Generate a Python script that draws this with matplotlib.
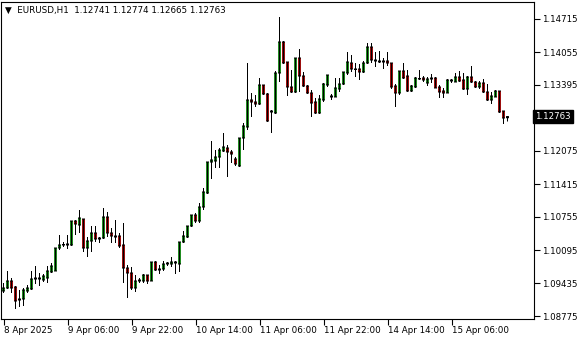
import numpy as np
import pandas as pd
import matplotlib
matplotlib.use('Agg')
import matplotlib.pyplot as plt

# EURUSD H1 bars
opens = [1.09275, 1.09335, 1.09475, 1.09355, 1.09095, 1.09115, 1.09275, 1.09315, 1.09515, 1.09535,
         1.09495, 1.09535, 1.09655, 1.09675, 1.10135, 1.10195, 1.10195, 1.10195, 1.10675, 1.10595,
         1.10715, 1.10135, 1.10275, 1.10435, 1.10315, 1.10335, 1.10755, 1.10435, 1.10375, 1.10375,
         1.10195, 1.09735, 1.09635, 1.09335, 1.09475, 1.09475, 1.09595, 1.09475, 1.09855, 1.09715,
         1.09715, 1.09815, 1.09815, 1.09835, 1.09815, 1.10255, 1.10355, 1.10575, 1.10795, 1.10675,
         1.10955, 1.11235, 1.11855, 1.11875, 1.11955, 1.12075, 1.12135, 1.12055, 1.11915, 1.11775,
         1.12335, 1.12555, 1.13095, 1.13055, 1.13015, 1.13395, 1.13215, 1.12855, 1.12835, 1.13635,
         1.14255, 1.13855, 1.13355, 1.13255, 1.13935, 1.13575, 1.13375, 1.13235, 1.13055, 1.12835,
         1.13095, 1.13395, 1.13155, 1.13155, 1.13315, 1.13415, 1.13635, 1.13835, 1.13715, 1.13715,
         1.13655, 1.13835, 1.14155, 1.13895, 1.13875, 1.13855, 1.13875, 1.13835, 1.13375, 1.13235,
         1.13675, 1.13575, 1.13275, 1.13355, 1.13515, 1.13535, 1.13435, 1.13515, 1.13535, 1.13355,
         1.13275, 1.13235, 1.13475, 1.13455, 1.13555, 1.13495, 1.13315, 1.13555, 1.13455, 1.13355,
         1.13435, 1.13255, 1.13095, 1.13155, 1.13275, 1.12875, 1.12741]
highs = [1.09435, 1.09675, 1.09535, 1.09375, 1.09295, 1.09335, 1.09395, 1.09675, 1.09775, 1.09635,
         1.09615, 1.09775, 1.09835, 1.10135, 1.10395, 1.10255, 1.10395, 1.10675, 1.10695, 1.10895,
         1.10715, 1.10355, 1.10575, 1.10575, 1.10355, 1.10935, 1.10855, 1.10535, 1.10695, 1.10435,
         1.10635, 1.09795, 1.09755, 1.09595, 1.09535, 1.09615, 1.09595, 1.09855, 1.09875, 1.09795,
         1.09875, 1.09855, 1.09955, 1.09875, 1.10255, 1.10475, 1.10575, 1.10795, 1.10835, 1.11035,
         1.11335, 1.11855, 1.12275, 1.12095, 1.12135, 1.12435, 1.12195, 1.12095, 1.11955, 1.12335,
         1.12635, 1.13835, 1.13235, 1.13195, 1.13535, 1.13395, 1.13235, 1.12895, 1.13675, 1.14755,
         1.14275, 1.13855, 1.13695, 1.13935, 1.14115, 1.13655, 1.13395, 1.13295, 1.13135, 1.13195,
         1.13435, 1.13595, 1.13215, 1.13535, 1.13535, 1.13655, 1.14055, 1.13995, 1.13835, 1.13815,
         1.13875, 1.14235, 1.14235, 1.14055, 1.14075, 1.13935, 1.14055, 1.13835, 1.13415, 1.13675,
         1.13835, 1.13695, 1.13395, 1.13555, 1.13695, 1.13575, 1.13555, 1.13615, 1.13555, 1.13395,
         1.13335, 1.13515, 1.13515, 1.13635, 1.13675, 1.13635, 1.13575, 1.13775, 1.13475, 1.13475,
         1.13515, 1.13415, 1.13255, 1.13295, 1.13275, 1.12875, 1.12774]
lows = [1.09235, 1.09315, 1.09235, 1.08915, 1.08955, 1.08975, 1.09235, 1.09295, 1.09415, 1.09375,
        1.09455, 1.09435, 1.09635, 1.09675, 1.10095, 1.10155, 1.10115, 1.10175, 1.10395, 1.10435,
        1.10055, 1.09955, 1.10055, 1.10255, 1.10235, 1.10315, 1.10355, 1.10235, 1.10235, 1.10135,
        1.09435, 1.09135, 1.09295, 1.09255, 1.09435, 1.09435, 1.09415, 1.09475, 1.09675, 1.09615,
        1.09675, 1.09775, 1.09755, 1.09615, 1.09655, 1.10235, 1.10335, 1.10555, 1.10635, 1.10635,
        1.10895, 1.11215, 1.11515, 1.11735, 1.11735, 1.12055, 1.11555, 1.11835, 1.11775, 1.11755,
        1.12095, 1.12495, 1.12755, 1.12955, 1.12995, 1.13195, 1.12655, 1.12435, 1.12815, 1.13455,
        1.13815, 1.13175, 1.13235, 1.13235, 1.13255, 1.13355, 1.13215, 1.12755, 1.12815, 1.12815,
        1.13055, 1.13355, 1.13095, 1.13155, 1.13255, 1.13395, 1.13595, 1.13655, 1.13555, 1.13495,
        1.13635, 1.13815, 1.13835, 1.13755, 1.13835, 1.13715, 1.13775, 1.13315, 1.12955, 1.13195,
        1.13515, 1.13255, 1.13255, 1.13335, 1.13495, 1.13455, 1.13375, 1.13435, 1.13335, 1.13135,
        1.13135, 1.13235, 1.13435, 1.13455, 1.13455, 1.13295, 1.13195, 1.13435, 1.13335, 1.13315,
        1.13235, 1.13075, 1.13015, 1.13155, 1.12835, 1.12615, 1.12665]
closes = [1.09335, 1.09475, 1.09335, 1.09075, 1.09115, 1.09295, 1.09335, 1.09515, 1.09535, 1.09515,
          1.09575, 1.09675, 1.09775, 1.10135, 1.10195, 1.10205, 1.10215, 1.10675, 1.10615, 1.10735,
          1.10135, 1.10275, 1.10435, 1.10315, 1.10335, 1.10755, 1.10435, 1.10375, 1.10355, 1.10175,
          1.09735, 1.09635, 1.09335, 1.09475, 1.09495, 1.09595, 1.09475, 1.09855, 1.09695, 1.09695,
          1.09815, 1.09835, 1.09855, 1.09855, 1.10255, 1.10375, 1.10575, 1.10795, 1.10675, 1.10955,
          1.11255, 1.11855, 1.11895, 1.11955, 1.12095, 1.12155, 1.12055, 1.12015, 1.11815, 1.12335,
          1.12575, 1.13095, 1.13055, 1.13015, 1.13395, 1.13215, 1.12675, 1.12875, 1.13635, 1.14255,
          1.13835, 1.13355, 1.13255, 1.13935, 1.13575, 1.13375, 1.13235, 1.13035, 1.12835, 1.13115,
          1.13415, 1.13595, 1.13175, 1.13335, 1.13415, 1.13655, 1.13855, 1.13715, 1.13705, 1.13655,
          1.13835, 1.14155, 1.13895, 1.13875, 1.13855, 1.13875, 1.13835, 1.13355, 1.13235, 1.13675,
          1.13535, 1.13275, 1.13375, 1.13535, 1.13525, 1.13495, 1.13515, 1.13535, 1.13335, 1.13255,
          1.13235, 1.13495, 1.13495, 1.13555, 1.13475, 1.13315, 1.13555, 1.13455, 1.13355, 1.13435,
          1.13255, 1.13095, 1.13175, 1.13275, 1.12855, 1.12735, 1.12763]

price_ticks = [1.14715, 1.14055, 1.13395, 1.12075, 1.11415, 1.10755, 1.10095, 1.09435, 1.08775]
time_ticks = ['2025-04-08 14:00', '2025-04-09 06:00', '2025-04-09 22:00', '2025-04-10 14:00',
              '2025-04-11 06:00', '2025-04-11 22:00', '2025-04-14 14:00', '2025-04-15 06:00']
time_labels = ['8 Apr 2025', '9 Apr 06:00', '9 Apr 22:00', '10 Apr 14:00',
               '11 Apr 06:00', '11 Apr 22:00', '14 Apr 14:00', '15 Apr 06:00']

# hourly bars, weekends skipped
times = pd.date_range('2025-04-08 14:00', '2025-04-16 23:00', freq='h')
times = times[times.dayofweek < 5][:len(closes)]

o = np.array(opens); h = np.array(highs); l = np.array(lows); c = np.array(closes)
x = np.arange(len(c))
up = c >= o

fig = plt.figure(figsize=(5.8, 3.4), dpi=100)
ax = fig.add_axes([1 / 580, 21 / 340, 533 / 580, 317 / 340])

px = 0.0002  # price per pixel on this chart
ax.vlines(x, l, h, color='black', linewidth=0.72, snap=False)
# body: black frame with a coloured core
lo_b = np.minimum(o, c); hi_b = np.maximum(o, c)
ax.bar(x, hi_b - lo_b + px, bottom=lo_b - px / 2, width=0.75, color='black',
       linewidth=0, snap=False)
inner = (hi_b - lo_b) > 1.5 * px
for mask, col in [(up & inner, '#30c830'), (~up & inner, '#e01414')]:
    ax.bar(x[mask], hi_b[mask] - lo_b[mask] - px, bottom=lo_b[mask] + px / 2, width=0.6,
           color=col, linewidth=0, snap=False)

# bar centres fall on pixel centres
ax.set_xlim(-0.625, 132.625)
ax.set_ylim(1.08715, 1.15055)

ax.yaxis.tick_right()
ax.set_yticks(price_ticks)
ax.set_yticklabels([f'{p:.5f}' for p in price_ticks])
ax.tick_params(axis='y', length=4, width=0.8, pad=2, labelsize=6.2)

tpos = [times.get_loc(pd.Timestamp(t)) for t in time_ticks]
ax.set_xticks(tpos)
ax.set_xticklabels(time_labels, ha='left')
ax.tick_params(axis='x', length=4, width=0.8, pad=1, labelsize=6.3)

for s in ax.spines.values():
    s.set_linewidth(0.8)

# current price tag
last = closes[-1]
ax.text(1.002, last, f'{last:.5f}', transform=ax.get_yaxis_transform(), ha='left', va='center',
        fontsize=6.2, color='white', bbox=dict(boxstyle='square,pad=0.25', fc='black', ec='black'))

ax.text(0.008, 0.975, '\u25bc  EURUSD,H1  {:.5f} {:.5f} {:.5f} {:.5f}'.format(
    opens[-1], highs[-1], lows[-1], closes[-1]), transform=ax.transAxes,
    ha='left', va='center', fontsize=6.3)

fig.savefig('out.png', dpi=100)
